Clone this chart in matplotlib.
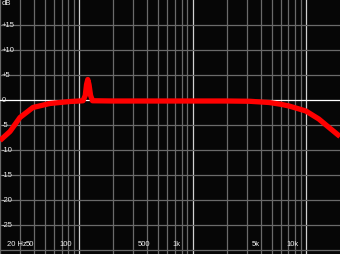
import matplotlib
matplotlib.use("Agg")
import matplotlib.pyplot as plt
import numpy as np

# frequency response (Hz, dB)
freq = [20, 24.5, 30, 39, 55, 83, 100, 108, 113, 116, 119, 122, 126, 131,
        200, 1000, 2000, 3160, 4740, 6000, 7100, 10000, 13000, 16000, 20000]
gain = [-8.2, -6.4, -3.6, -1.6, -0.8, -0.4, -0.3, -0.25, 0.8, 3.0, 4.0, 3.0, 0.8, -0.25,
        -0.3, -0.3, -0.3, -0.35, -0.6, -0.95, -1.3, -2.3, -3.9, -5.6, -7.4]

db_ticks = [15, 10, 5, 0, -5, -10, -15, -20, -25]
db_labels = ["+15", "+10", "+5", "0", "-5", "-10", "-15", "-20", "-25"]
hz_labels = ["20 Hz", "50", "100", "500", "1k", "5k", "10k"]
hz_label_pos = [23, 33.6, 67.6, 328, 666, 3330, 6690]

fig = plt.figure(figsize=(3.4, 2.55), dpi=100)
fig.patch.set_facecolor("black")
ax = fig.add_axes([0, 0, 1, 1])
ax.set_facecolor("#060606")
ax.set_xscale("log")
ax.set_xlim(20, 20000)
ax.set_ylim(-30.9, 20.1)
for s in ax.spines.values():
    s.set_visible(False)
ax.set_xticks([])
ax.set_yticks([])
ax.minorticks_off()

# grid, vertical lines stop at 10k
for dec in [10, 100, 1000, 10000]:
    for m in range(1, 10):
        f = dec * m
        if f < 20 or f > 10000:
            continue
        col = "#d0d0d0" if m == 1 else "#6a6a6a"
        ax.axvline(f, color=col, lw=0.9, zorder=1)
for d in range(-30, 20, 5):
    col = "white" if d == 0 else "#6a6a6a"
    ax.axhline(d, color=col, lw=0.9, zorder=1)

ax.plot(freq, gain, color="#ff0000", lw=3.8, solid_capstyle="butt", zorder=3)

fnt = dict(color="#f0f0f0", fontsize=5.5, family="Liberation Sans", zorder=4)
tr = ax.get_yaxis_transform()
for v, t in zip(db_ticks, db_labels):
    ax.text(0.004, v, t, transform=tr, ha="left", va="center", **fnt)
ax.text(0.004, 1.0, "dB", transform=ax.transAxes, ha="left", va="top", **fnt)

xt = ax.get_xaxis_transform()
for f, t in zip(hz_label_pos, hz_labels):
    ax.text(f, 0.04, t, transform=xt, ha="left", va="center", **fnt)

fig.savefig("out.png", dpi=100, facecolor="black")
